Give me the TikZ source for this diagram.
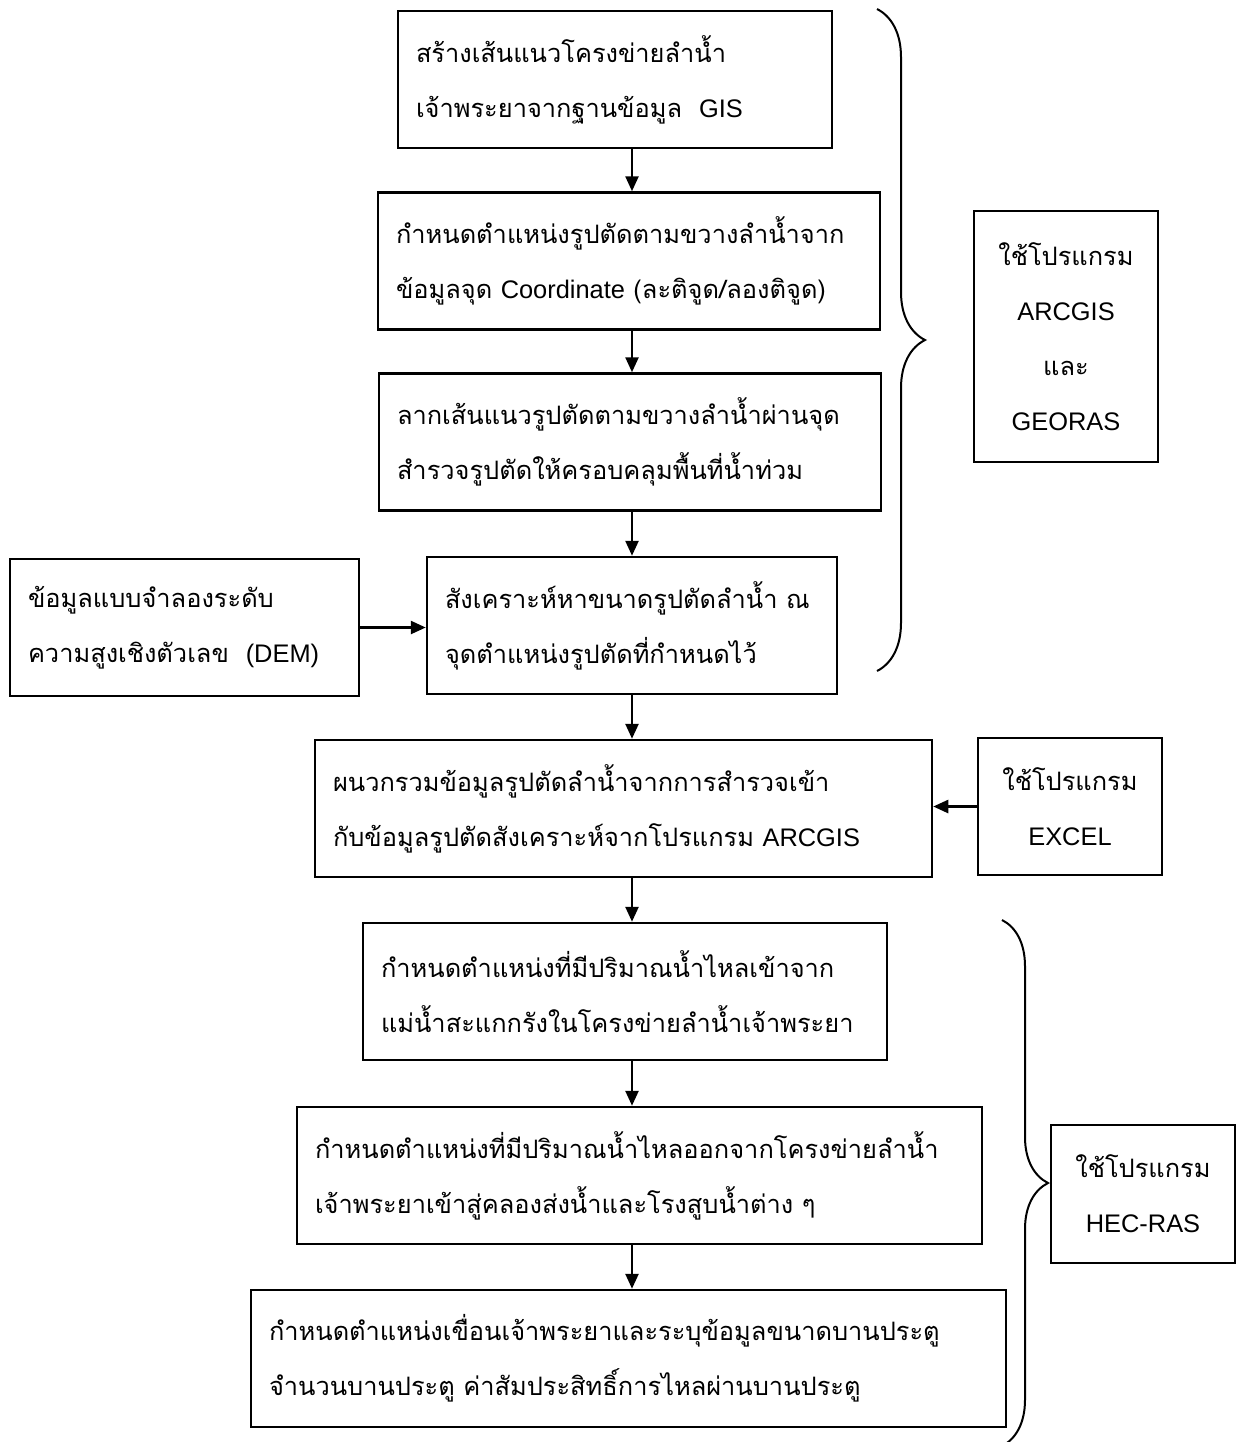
\documentclass[tikz,border=0pt]{standalone}
\usepackage{fontspec}
\setmainfont[Script=Thai]{Loma}
\newfontfamily\latfont{Liberation Sans}
\usetikzlibrary{arrows.meta,decorations.pathreplacing}
\newcommand{\en}[1]{{\latfont #1}}

\tikzset{every picture/.style={line width=1.25pt}}
\tikzset{
  stepbox/.style={draw, align=left, inner xsep=9pt, inner ysep=0pt, minimum height=68.5pt, font=\fontsize{12.7}{27.5}\selectfont},
  progbox/.style={draw, align=center, inner sep=0pt, font=\fontsize{12.7}{27.5}\selectfont},
  flow/.style={-{Triangle[length=7.5pt,width=6.5pt]}},
  curly/.style={decorate, decoration={brace, amplitude=#1}, line width=1pt},
}

\begin{document}
\begin{tikzpicture}[x=0.5pt,y=0.5pt,yscale=-1,xscale=1]
\useasboundingbox (0,0) rectangle (1245,1442);

% Steps
\node [stepbox, text width=199pt] (b1) at (615,79.5) {สร้างเส้นแนวโครงข่ายลำน้ำ\\เจ้าพระยาจากฐานข้อมูล\ \ \en{GIS}};
\node [stepbox, text width=233pt] (b2) at (629,261) {กำหนดตำแหน่งรูปตัดตามขวางลำน้ำจาก\\ข้อมูลจุด \en{Coordinate} (ละติจูด/ลองติจูด)};
\node [stepbox, text width=233pt] (b3) at (630,442) {ลากเส้นแนวรูปตัดตามขวางลำน้ำผ่านจุด\\สำรวจรูปตัดให้ครอบคลุมพื้นที่น้ำท่วม};
\node [stepbox, text width=187pt] (b4) at (632,625.5) {สังเคราะห์หาขนาดรูปตัดลำน้ำ ณ\\จุดตำแหน่งรูปตัดที่กำหนดไว้};
\node [stepbox, text width=156.5pt] (dem) at (184.5,627.5) {ข้อมูลแบบจำลองระดับ\\ความสูงเชิงตัวเลข\ \ \en{(DEM)}};
\node [stepbox, text width=290.5pt] (b5) at (623.5,808.5) {ผนวกรวมข้อมูลรูปตัดลำน้ำจากการสำรวจเข้า\\กับข้อมูลรูปตัดสังเคราะห์จากโปรแกรม \en{ARCGIS}};
\node [stepbox, text width=244pt] (b6) at (625,991.5) {กำหนดตำแหน่งที่มีปริมาณน้ำไหลเข้าจาก\\แม่น้ำสะแกกรังในโครงข่ายลำน้ำเจ้าพระยา};
\node [stepbox, text width=324.5pt] (b7) at (639.5,1175.5) {กำหนดตำแหน่งที่มีปริมาณน้ำไหลออกจากโครงข่ายลำน้ำ\\เจ้าพระยาเข้าสู่คลองส่งน้ำและโรงสูบน้ำต่าง ๆ};
\node [stepbox, text width=359.5pt] (b8) at (628.5,1358.5) {กำหนดตำแหน่งเขื่อนเจ้าพระยาและระบุข้อมูลขนาดบานประตู\\จำนวนบานประตู ค่าสัมประสิทธิ์การไหลผ่านบานประตู};

% Programs
\node [progbox, minimum width=92pt, minimum height=125.5pt] (arc) at (1066,336.5) {ใช้โปรแกรม\\\en{ARCGIS}\\และ\\\en{GEORAS}};
\node [progbox, minimum width=92pt, minimum height=68.5pt] (excel) at (1070,806.5) {ใช้โปรแกรม\\\en{EXCEL}};
\node [progbox, minimum width=92pt, minimum height=69pt] (hec) at (1143,1194) {ใช้โปรแกรม\\\en{HEC-RAS}};

% Arrows
\coordinate (axis) at (632,0);
\draw [flow] (b1.south -| axis) -- (b2.north -| axis);
\draw [flow] (b2.south -| axis) -- (b3.north -| axis);
\draw [flow] (b3.south -| axis) -- (b4.north -| axis);
\draw [flow] (b4.south -| axis) -- (b5.north -| axis);
\draw [flow] (b5.south -| axis) -- (b6.north -| axis);
\draw [flow] (b6.south -| axis) -- (b7.north -| axis);
\draw [flow] (b7.south -| axis) -- (b8.north -| axis);
\draw [flow] (dem.east) -- (b4.west |- dem.east);
\draw [flow] (excel.west) -- (b5.east |- excel.west);

% Braces
\coordinate (top1) at (877,9);
\coordinate (bot1) at (877,671);
\coordinate (top2) at (1002,920);
\coordinate (bot2) at (1002,1446);
\draw [curly=24pt] (top1) -- (bot1);
\draw [curly=23pt] (top2) -- (bot2);

\end{tikzpicture}
\end{document}
